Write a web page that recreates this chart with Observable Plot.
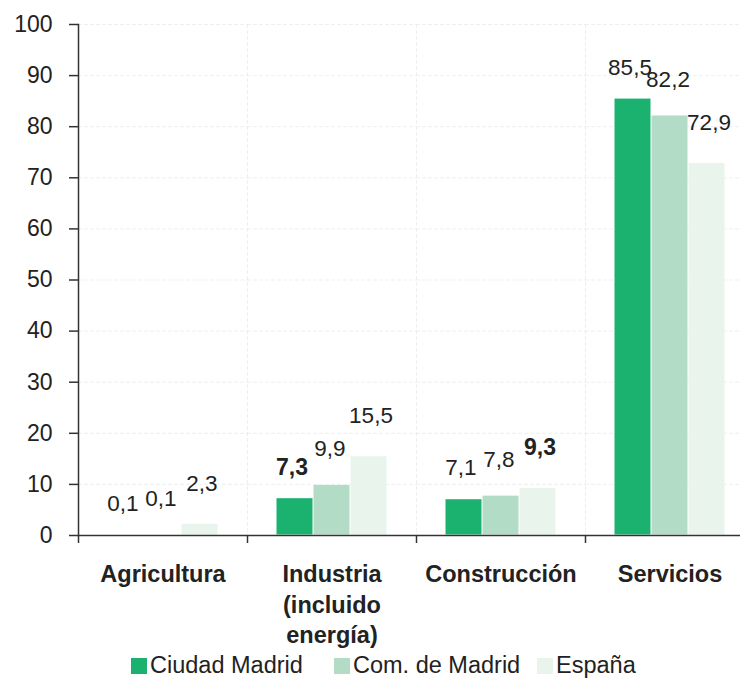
<!DOCTYPE html>
<html>
<head>
<meta charset="utf-8">
<script src="https://cdn.jsdelivr.net/npm/d3@7"></script>
<script src="https://cdn.jsdelivr.net/npm/@observablehq/plot@0.6"></script>
<style>
  html, body { margin: 0; padding: 0; background: #fff; }
  body { width: 740px; height: 681px; overflow: hidden; font-family: "Liberation Sans", Arial, sans-serif; color: #222; }
  #legend { display: flex; height: 31px; align-items: center; padding-left: 131px; font-size: 23.5px; }
  .item { display: flex; align-items: center; width: 227px; }
  .sw { width: 16px; height: 16px; margin-right: 3px; }
</style>
</head>
<body>
<div id="chart"></div>
<div id="legend"></div>
<script>
const categories = ["Agricultura", "Industria\n(incluido\nenergía)", "Construcción", "Servicios"];
const series = ["Ciudad Madrid", "Com. de Madrid", "España"];
const ciudadMadrid = [0.1, 7.3, 7.1, 85.5];
const comMadrid = [0.1, 9.9, 7.8, 82.2];
const espana = [2.3, 15.5, 9.3, 72.9];
const emphasized = [["Industria\n(incluido\nenergía)", "Ciudad Madrid"], ["Construcción", "España"]];
const yTicks = [0, 10, 20, 30, 40, 50, 60, 70, 80, 90, 100];
const colors = ["#1bb270", "#b3dcc7", "#e9f5ec"];

const values = [ciudadMadrid, comMadrid, espana];
const data = [];
categories.forEach((c, i) => series.forEach((s, j) => data.push({category: c, series: s, value: values[j][i],
  bold: emphasized.some(([ec, es]) => ec === c && es === s)})));

const fmt = v => d3.format(".1f")(v).replace(".", ",");
const labelDy = {"Ciudad Madrid": -31, "Com. de Madrid": -36, "España": -40};
const labelDx = {"Ciudad Madrid": -3, "Com. de Madrid": -2, "España": 2};

const labelMarks = [];
for (const s of series) {
  for (const b of [false, true]) {
    labelMarks.push(Plot.text(data.filter(d => d.series === s && d.bold === b), {
      fx: "category", x: "series", y: "value", text: d => fmt(d.value),
      dy: labelDy[s], dx: labelDx[s], fontSize: b ? 23 : 22.5, fontWeight: b ? "bold" : "normal", fill: "#222",
      lineAnchor: "middle"
    }));
  }
}

const width = 740, height = 650;
const chart = Plot.plot({
  width, height,
  marginTop: 24, marginBottom: 115, marginLeft: 78, marginRight: 0,
  style: {fontFamily: "'Liberation Sans', Arial, sans-serif", fontSize: "22px", color: "#222", background: "#fff", overflow: "visible"},
  fx: {domain: categories, range: [78, 754], padding: 0, label: null},
  x: {domain: series, paddingInner: 0, paddingOuter: 0.74, axis: null},
  y: {domain: [0, 100], ticks: yTicks, label: null},
  color: {domain: series, range: colors},
  marks: [
    Plot.gridY(yTicks.filter(t => t > 0), {stroke: "#e4e4e4", strokeOpacity: 0.6, strokeDasharray: "4,2"}),
    Plot.gridFx({dx: -84.5, stroke: "#e4e4e4", strokeOpacity: 0.6, strokeDasharray: "4,2"}),
    Plot.barY(data, {fx: "category", x: "series", y: "value", fill: "series", inset: 0.5}),
    Plot.ruleY([0], {stroke: "#333", strokeWidth: 1.5}),
    Plot.frame({anchor: "left", facet: "super", stroke: "#333", strokeWidth: 1.5}),
    Plot.axisY({ticks: yTicks, tickSize: 9, tickPadding: 17, stroke: "#333", strokeWidth: 1.5, fontSize: 23, label: null}),
    Plot.axisFx({anchor: "bottom", tickSize: 8, tickFormat: () => "", dx: -84.5, stroke: "#333", strokeWidth: 1.5, label: null}),
    Plot.axisFx({anchor: "bottom", tickSize: 0, tickPadding: 25, fontSize: 23.5, fontWeight: "bold", lineHeight: 1.3, label: null}),
    ...labelMarks
  ]
});
document.getElementById("chart").appendChild(chart);

const legend = document.getElementById("legend");
series.forEach((s, i) => {
  const item = document.createElement("div");
  item.className = "item";
  const sw = document.createElement("span");
  sw.className = "sw";
  sw.style.background = colors[i];
  const t = document.createElement("span");
  t.textContent = s;
  item.appendChild(sw); item.appendChild(t);
  legend.appendChild(item);
});
</script>
</body>
</html>
